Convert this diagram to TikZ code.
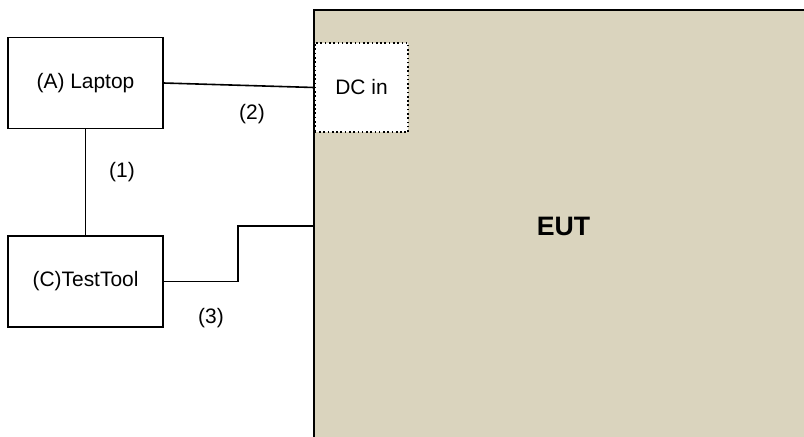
\documentclass[tikz,border=0pt]{standalone}
\usepackage{fontspec}
\setmainfont{Liberation Sans}
\definecolor{eutbg}{RGB}{218,212,190}
\begin{document}
\begin{tikzpicture}[x=0.75pt,y=-0.75pt,
  box/.style={draw,line width=1.2pt,minimum width=116pt,minimum height=68pt},
  port/.style={draw,dotted,line width=1.2pt,fill=white,minimum width=70pt,minimum height=67pt},
  every node/.style={font=\fontsize{15.7}{18}\selectfont}]
  \useasboundingbox (0,0) rectangle (804,436);
  \path[fill=eutbg,draw,line width=1.6pt] (314,10) rectangle (830,460);
  \node[font=\fontsize{20}{24}\selectfont\bfseries] (eut) at (563.5,226) {EUT};
  \node[box] (laptop) at (85.5,83) {(A) Laptop};
  \node[box] (tool) at (85.5,281.5) {(C)TestTool};
  \node[port] (dc) at (361.5,87.5) {DC in};
  \coordinate (bend) at (238,226);
  \coordinate (eutin) at (314,226);
  \draw[line width=1.2pt] (laptop) -- (tool);
  \draw[line width=1.2pt] (laptop.east) -- (dc.west);
  \draw[line width=1.2pt] (tool.east) -| (bend) -- (eutin);
  \node at (122,172) {(1)};
  \node at (252,114) {(2)};
  \node at (211,318) {(3)};
\end{tikzpicture}
\end{document}
